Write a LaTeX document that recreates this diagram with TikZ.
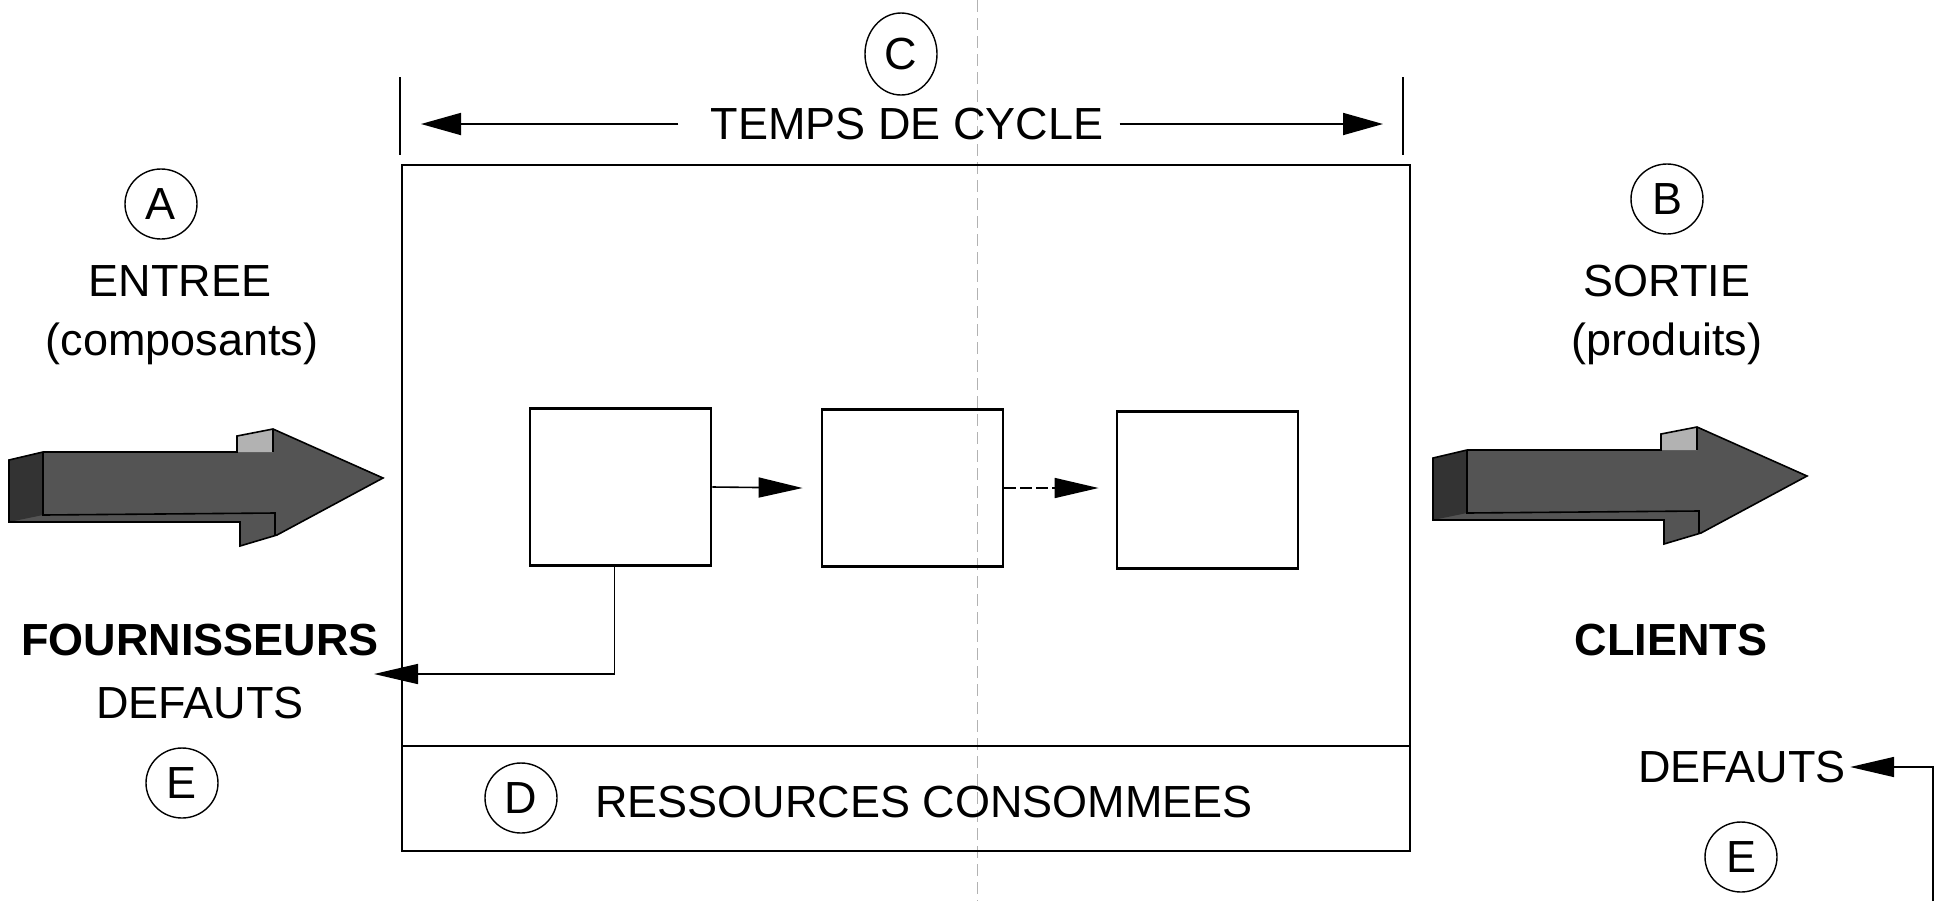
\documentclass[tikz,border=0pt]{standalone}
\usepackage{fontspec}
\setmainfont{Liberation Sans}
\usetikzlibrary{arrows.meta,shapes.geometric}
\definecolor{arrowfill}{gray}{0.33}
\definecolor{arrowdark}{gray}{0.2}
\definecolor{arrowlight}{gray}{0.7}
\tikzset{
  txt/.style={font=\fontsize{22.5}{27}\selectfont, inner sep=0pt},
  boldtxt/.style={font=\fontsize{22.5}{27}\selectfont\bfseries, inner sep=0pt},
  lettre/.style={draw, ellipse, line width=0.7pt, minimum width=36pt, minimum height=35pt, inner sep=0pt, font=\fontsize{22.5}{27}\selectfont},
  stagebox/.style={draw, line width=1.4pt, minimum width=90.5pt, minimum height=78.5pt, inner sep=0pt},
  frame/.style={line width=1.2pt},
  tick/.style={line width=0.8pt},
  conn/.style={line width=0.8pt, -{Triangle[length=22pt,width=10pt]}},
  dimarrow/.style={line width=0.9pt, -{Triangle[length=20pt,width=11pt]}},
  bigarrow/.pic={
    \fill[arrowfill] (0,0) -- (34,-8) -- (228,-8) -- (228,-24) -- (264,-31) -- (374,18) -- (268,75) -- (231,86) -- (231,62) -- (0,62) -- cycle;
    \fill[arrowdark] (0,0) -- (34,-8) -- (34,55) -- (0,62) -- cycle;
    \fill[arrowlight] (228,-8) -- (228,-24) -- (264,-31) -- (264,-8) -- cycle;
    \draw[line width=0.8pt] (0,0) -- (34,-8) -- (228,-8) -- (228,-24) -- (264,-31) -- (374,18) -- (268,75) -- (231,86) -- (231,62) -- (0,62) -- cycle;
    \draw[line width=0.8pt] (34,-8) -- (34,55) -- (266,53) -- (266,75);
    \draw[line width=0.6pt] (264,-31) -- (264,-8);
  }
}
\begin{document}
\begin{tikzpicture}[x=0.5pt,y=-0.5pt]
\useasboundingbox (0,0) rectangle (1940,901);
% faint fold line of the scan
\draw[black!30, line width=0.3pt, dash pattern=on 6pt off 3pt] (977,0) -- (977,901);

% main system frame
\coordinate (sysNW) at (402,165);
\coordinate (sysSE) at (1410,851);
\coordinate (divW) at (402,746);
\coordinate (divE) at (1410,746);
\draw[frame] (sysNW) rectangle (sysSE);
\draw[frame] (divW) -- (divE);

% cycle time dimension
\node[lettre, minimum height=41pt] (C) at (901,54) {C};
\node[txt] (tdc) at (907,124) {TEMPS DE CYCLE};
\coordinate (tl) at (421,124);
\coordinate (tr) at (1383,124);
\coordinate (tickLa) at (400,77);
\coordinate (tickLb) at (400,155);
\coordinate (tickRa) at (1403,77);
\coordinate (tickRb) at (1403,155);
\draw[tick] (tickLa) -- (tickLb);
\draw[tick] (tickRa) -- (tickRb);
\draw[dimarrow] ([xshift=-16pt]tdc.west) -- (tl);
\draw[dimarrow] ([xshift=8pt]tdc.east) -- (tr);

% input side
\node[lettre] (A) at (161,204) {A};
\node[txt] (entree) at (180,281) {ENTREE};
\node[txt] (compo) at (182,344) {(composants)};
\pic (inarrow) at (9,460) {bigarrow};
\node[boldtxt] (fourn) at (200,640) {FOURNISSEURS};
\node[txt] (defl) at (200,703) {DEFAUTS};
\node[lettre] (El) at (182,783) {E};

% output side
\node[lettre] (B) at (1667,199) {B};
\node[txt] (sortie) at (1667,281) {SORTIE};
\node[txt] (produits) at (1667,344) {(produits)};
\pic (outarrow) at (1433,458) {bigarrow};
\node[boldtxt] (clients) at (1671,640) {CLIENTS};
\node[txt] (defr) at (1742,767) {DEFAUTS};
\node[lettre] (Er) at (1741,857) {E};
\coordinate (cr) at (1933,901);
\draw[conn] (cr) |- ([xshift=2pt]defr.east);

% process stages
\node[stagebox] (b1) at (620.5,487) {};
\node[stagebox] (b2) at (912.5,488) {};
\node[stagebox] (b3) at (1207.5,490) {};
\draw[conn] (b1.east) -- ([xshift=-9pt]b2.west);
\draw[conn, dash pattern=on 6pt off 2pt] (b2.east) -- ([xshift=-8.5pt]b3.west |- b2.east);
\coordinate (fdtip) at (374,674);
\draw[conn] ([xshift=-3pt]b1.south) |- (fdtip);

% resources
\node[lettre] (D) at (521,798) {D};
\node[txt] (res) at (924,802) {RESSOURCES CONSOMMEES};
\end{tikzpicture}
\end{document}
